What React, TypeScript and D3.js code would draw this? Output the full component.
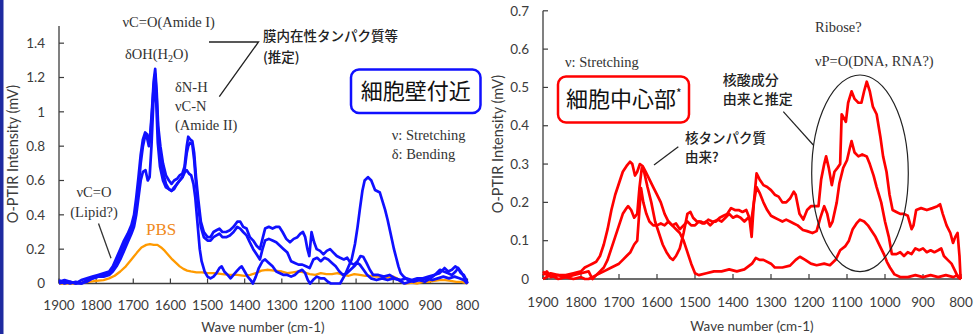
import React from "react";
import * as d3 from "d3";

type Pt = [number, number];

// ---------- Left panel (cell wall) ----------
const blueA: Pt[] = [[1900,0.01],[1885,0.02],[1870,0.01],[1855,0.0],[1840,0.02],[1825,0.03],[1810,0.04],[1795,0.05],[1780,0.06],[1765,0.07],[1755,0.1],[1745,0.15],[1735,0.2],[1725,0.25],[1715,0.29],[1705,0.34],[1698,0.4],[1692,0.5],[1686,0.62],[1680,0.75],[1674,0.84],[1668,0.88],[1663,0.87],[1658,0.82],[1654,0.88],[1650,1.0],[1645,1.18],[1641,1.25],[1637,1.12],[1633,0.92],[1627,0.8],[1620,0.7],[1612,0.63],[1604,0.6],[1597,0.58],[1590,0.6],[1582,0.61],[1575,0.63],[1568,0.64],[1562,0.68],[1556,0.8],[1552,0.855],[1547,0.84],[1541,0.83],[1536,0.76],[1531,0.62],[1525,0.49],[1518,0.36],[1510,0.3],[1500,0.27],[1492,0.27],[1484,0.3],[1476,0.31],[1468,0.32],[1460,0.3],[1450,0.3],[1440,0.31],[1430,0.33],[1420,0.36],[1412,0.36],[1404,0.33],[1395,0.32],[1386,0.27],[1377,0.25],[1368,0.22],[1359,0.2],[1352,0.26],[1345,0.32],[1335,0.33],[1325,0.32],[1315,0.33],[1307,0.33],[1298,0.3],[1288,0.26],[1278,0.24],[1268,0.26],[1258,0.27],[1250,0.29],[1243,0.3],[1237,0.27],[1231,0.2],[1226,0.16],[1220,0.3],[1213,0.24],[1206,0.2],[1197,0.19],[1188,0.17],[1179,0.19],[1170,0.2],[1161,0.18],[1152,0.16],[1143,0.15],[1133,0.14],[1124,0.15],[1115,0.12],[1106,0.11],[1096,0.13],[1088,0.16],[1081,0.156],[1072,0.12],[1063,0.08],[1054,0.05],[1040,0.05],[1025,0.04],[1010,0.05],[995,0.03],[980,0.02],[965,0.03],[950,0.02],[935,0.03],[920,0.03],[905,0.04],[890,0.05],[875,0.06],[862,0.09],[852,0.07],[842,0.08],[833,0.1],[826,0.09],[818,0.06],[810,0.05],[803,0.02],[800,0.0]];

const blueB: Pt[] = [[1900,0.0],[1885,0.01],[1870,0.0],[1855,0.01],[1840,0.0],[1825,0.02],[1810,0.03],[1795,0.04],[1780,0.05],[1765,0.06],[1755,0.08],[1745,0.12],[1735,0.17],[1725,0.22],[1715,0.27],[1705,0.31],[1698,0.36],[1692,0.44],[1686,0.56],[1680,0.7],[1674,0.8],[1668,0.86],[1663,0.85],[1658,0.8],[1654,0.85],[1650,0.98],[1645,1.15],[1641,1.22],[1637,1.08],[1633,0.88],[1627,0.74],[1620,0.65],[1612,0.58],[1604,0.55],[1597,0.54],[1590,0.56],[1582,0.58],[1575,0.6],[1568,0.62],[1562,0.66],[1556,0.76],[1552,0.8],[1547,0.82],[1541,0.81],[1536,0.72],[1531,0.58],[1525,0.45],[1518,0.33],[1510,0.27],[1500,0.25],[1492,0.25],[1484,0.27],[1476,0.28],[1468,0.29],[1460,0.27],[1450,0.27],[1440,0.28],[1430,0.3],[1420,0.33],[1412,0.32],[1404,0.3],[1395,0.28],[1386,0.24],[1377,0.2],[1368,0.17],[1359,0.14],[1352,0.2],[1345,0.25],[1335,0.26],[1325,0.25],[1315,0.24],[1305,0.22],[1295,0.2],[1285,0.18],[1275,0.13],[1265,0.12],[1255,0.11],[1245,0.11],[1235,0.1],[1225,0.09],[1215,0.14],[1205,0.15],[1195,0.13],[1185,0.15],[1175,0.14],[1165,0.12],[1155,0.1],[1145,0.07],[1135,0.05],[1125,0.06],[1115,0.08],[1105,0.1],[1097,0.12],[1090,0.11],[1080,0.08],[1070,0.05],[1060,0.03],[1045,0.02],[1030,0.03],[1015,0.02],[1000,0.03],[985,0.02],[970,0.0],[955,0.01],[940,0.02],[925,0.02],[910,0.03],[895,0.02],[880,0.03],[865,0.04],[850,0.03],[835,0.04],[822,0.03],[810,0.02],[800,0.0]];

const blueC: Pt[] = [[1900,0.02],[1885,0.0],[1870,0.01],[1855,0.0],[1840,0.0],[1825,0.01],[1810,0.03],[1795,0.04],[1780,0.04],[1765,0.05],[1755,0.07],[1745,0.1],[1735,0.14],[1725,0.19],[1715,0.24],[1705,0.29],[1698,0.33],[1692,0.4],[1686,0.5],[1680,0.6],[1674,0.65],[1667,0.66],[1661,0.6],[1656,0.62],[1651,0.8],[1646,1.05],[1642,1.2],[1638,1.05],[1634,0.82],[1628,0.68],[1620,0.6],[1612,0.56],[1604,0.55],[1597,0.54],[1590,0.55],[1582,0.58],[1575,0.6],[1567,0.62],[1561,0.65],[1556,0.66],[1550,0.64],[1544,0.63],[1538,0.58],[1533,0.5],[1527,0.35],[1521,0.2],[1516,0.13],[1508,0.07],[1500,0.04],[1492,0.03],[1484,0.04],[1476,0.06],[1468,0.09],[1462,0.1],[1455,0.07],[1446,0.05],[1438,0.03],[1430,0.05],[1422,0.07],[1414,0.09],[1408,0.1],[1400,0.07],[1392,0.04],[1384,0.02],[1378,0.0],[1370,0.04],[1362,0.09],[1352,0.13],[1345,0.14],[1335,0.12],[1325,0.1],[1315,0.07],[1305,0.06],[1295,0.05],[1285,0.05],[1275,0.04],[1265,0.05],[1255,0.07],[1245,0.08],[1237,0.06],[1230,0.02],[1224,0.0],[1216,0.02],[1206,0.04],[1196,0.03],[1186,0.03],[1176,0.01],[1168,0.0],[1158,0.0],[1150,0.0],[1143,0.0],[1130,0.05],[1120,0.1],[1112,0.14],[1103,0.23],[1096,0.33],[1090,0.43],[1083,0.54],[1077,0.6],[1068,0.62],[1059,0.6],[1049,0.545],[1036,0.53],[1029,0.48],[1022,0.43],[1015,0.37],[1009,0.31],[1003,0.25],[998,0.2],[992,0.15],[986,0.1],[980,0.06],[972,0.04],[960,0.02],[945,0.01],[930,0.02],[915,0.01],[900,0.03],[888,0.05],[874,0.08],[864,0.07],[852,0.06],[842,0.05],[832,0.07],[825,0.09],[818,0.07],[810,0.04],[802,0.0]];

const pbs: Pt[] = [[1900,0.0],[1880,0.0],[1860,0.0],[1840,0.005],[1820,0.01],[1800,0.015],[1780,0.02],[1765,0.03],[1750,0.045],[1735,0.07],[1720,0.1],[1705,0.14],[1690,0.18],[1678,0.21],[1665,0.225],[1655,0.23],[1645,0.225],[1635,0.225],[1625,0.21],[1615,0.19],[1605,0.165],[1595,0.14],[1585,0.12],[1575,0.1],[1565,0.085],[1555,0.075],[1545,0.07],[1530,0.065],[1515,0.065],[1500,0.06],[1480,0.06],[1460,0.055],[1440,0.05],[1420,0.05],[1400,0.045],[1385,0.05],[1370,0.06],[1355,0.075],[1340,0.08],[1320,0.075],[1300,0.07],[1285,0.06],[1270,0.065],[1255,0.07],[1240,0.065],[1225,0.055],[1210,0.05],[1195,0.06],[1180,0.055],[1165,0.055],[1150,0.06],[1135,0.05],[1120,0.045],[1105,0.055],[1090,0.05],[1075,0.045],[1060,0.045],[1045,0.04],[1030,0.04],[1015,0.035],[1000,0.04],[990,0.03],[980,0.01],[968,0.0],[950,0.005],[935,0.0],[920,0.01],[905,0.01],[890,0.015],[875,0.02],[860,0.02],[845,0.015],[830,0.01],[815,0.01],[800,0.0]];

// ---------- Right panel (cell centre) ----------
const redX: Pt[] = [[1900,0.01],[1890,0.02],[1880,0.005],[1860,0.01],[1840,0.01],[1820,0.015],[1800,0.02],[1790,0.03],[1780,0.035],[1770,0.04],[1760,0.045],[1750,0.06],[1740,0.09],[1730,0.13],[1720,0.18],[1710,0.22],[1700,0.25],[1690,0.28],[1680,0.295],[1671,0.306],[1665,0.3],[1658,0.27],[1652,0.28],[1645,0.3],[1638,0.295],[1630,0.28],[1620,0.26],[1610,0.24],[1600,0.22],[1590,0.2],[1580,0.17],[1570,0.15],[1560,0.14],[1550,0.13],[1540,0.12],[1530,0.1],[1520,0.07],[1510,0.04],[1500,0.015],[1490,0.01],[1470,0.015],[1450,0.02],[1430,0.02],[1410,0.025],[1390,0.02],[1370,0.025],[1350,0.04],[1340,0.055],[1330,0.05],[1320,0.05],[1300,0.04],[1290,0.03],[1270,0.03],[1250,0.035],[1235,0.05],[1224,0.058],[1210,0.05],[1195,0.04],[1180,0.036],[1160,0.04],[1145,0.036],[1130,0.05],[1118,0.075],[1105,0.085],[1095,0.1],[1085,0.13],[1075,0.145],[1066,0.155],[1055,0.15],[1045,0.14],[1035,0.125],[1025,0.11],[1013,0.085],[1003,0.065],[995,0.045],[987,0.03],[975,0.012],[960,0.005],[940,0.005],[920,0.01],[900,0.005],[880,0.01],[860,0.005],[840,0.01],[820,0.005],[810,0.01],[800,0.0]];

const redY: Pt[] = [[1900,0.0],[1880,0.01],[1860,0.0],[1840,0.005],[1820,0.01],[1800,0.015],[1780,0.02],[1770,0.0],[1760,0.01],[1750,0.02],[1740,0.03],[1730,0.05],[1720,0.08],[1710,0.11],[1700,0.14],[1690,0.17],[1680,0.185],[1676,0.19],[1668,0.18],[1660,0.16],[1652,0.17],[1646,0.24],[1640,0.29],[1634,0.28],[1625,0.24],[1615,0.2],[1605,0.15],[1595,0.12],[1585,0.09],[1575,0.07],[1565,0.055],[1558,0.05],[1550,0.06],[1540,0.08],[1530,0.12],[1520,0.17],[1512,0.175],[1505,0.16],[1495,0.15],[1485,0.15],[1475,0.145],[1465,0.155],[1455,0.15],[1445,0.15],[1435,0.16],[1425,0.165],[1415,0.17],[1405,0.185],[1395,0.18],[1385,0.18],[1375,0.175],[1365,0.18],[1357,0.16],[1351,0.11],[1345,0.2],[1338,0.276],[1330,0.26],[1320,0.245],[1310,0.24],[1300,0.232],[1290,0.22],[1280,0.215],[1270,0.2],[1260,0.2],[1250,0.21],[1240,0.228],[1235,0.22],[1225,0.17],[1215,0.155],[1205,0.18],[1195,0.19],[1185,0.19],[1175,0.19],[1168,0.26],[1160,0.3],[1155,0.32],[1148,0.29],[1140,0.245],[1133,0.28],[1125,0.29],[1118,0.3],[1114,0.43],[1108,0.42],[1103,0.41],[1097,0.46],[1088,0.49],[1080,0.47],[1070,0.46],[1062,0.46],[1055,0.49],[1048,0.515],[1040,0.49],[1032,0.45],[1022,0.43],[1012,0.37],[1005,0.32],[996,0.28],[988,0.22],[980,0.18],[970,0.175],[960,0.17],[950,0.17],[940,0.165],[930,0.13],[925,0.14],[918,0.18],[905,0.185],[890,0.18],[875,0.185],[862,0.19],[855,0.195],[848,0.17],[838,0.14],[828,0.12],[821,0.094],[815,0.11],[809,0.12],[804,0.06],[801,0.0]];

const redZ: Pt[] = [[1900,0.02],[1890,0.01],[1880,0.015],[1860,0.01],[1840,0.005],[1820,0.0],[1800,0.005],[1790,0.0],[1780,0.0],[1770,0.005],[1760,0.01],[1740,0.02],[1720,0.03],[1700,0.04],[1690,0.05],[1680,0.06],[1670,0.07],[1660,0.09],[1652,0.1],[1647,0.17],[1642,0.237],[1636,0.2],[1628,0.17],[1620,0.15],[1610,0.14],[1600,0.14],[1590,0.145],[1580,0.14],[1570,0.15],[1560,0.14],[1550,0.145],[1540,0.13],[1530,0.14],[1520,0.15],[1510,0.14],[1500,0.14],[1490,0.15],[1480,0.145],[1470,0.15],[1460,0.14],[1450,0.15],[1440,0.155],[1430,0.15],[1420,0.16],[1410,0.17],[1400,0.16],[1390,0.165],[1380,0.16],[1370,0.15],[1360,0.16],[1352,0.15],[1345,0.2],[1338,0.24],[1330,0.225],[1320,0.2],[1310,0.18],[1300,0.165],[1290,0.16],[1280,0.155],[1270,0.15],[1260,0.155],[1250,0.15],[1240,0.145],[1230,0.14],[1216,0.128],[1205,0.125],[1191,0.12],[1180,0.125],[1170,0.16],[1160,0.19],[1152,0.17],[1145,0.137],[1138,0.15],[1127,0.2],[1120,0.25],[1110,0.29],[1100,0.31],[1093,0.34],[1088,0.36],[1080,0.33],[1070,0.32],[1060,0.325],[1048,0.32],[1040,0.3],[1030,0.27],[1022,0.24],[1010,0.2],[1000,0.15],[990,0.11],[982,0.065],[970,0.065],[960,0.07],[950,0.06],[940,0.07],[930,0.065],[920,0.08],[910,0.075],[900,0.08],[890,0.07],[880,0.075],[870,0.07],[860,0.075],[852,0.08],[845,0.06],[835,0.05],[825,0.04],[815,0.02],[808,0.005],[800,0.0]];

const xTicks = [1900, 1800, 1700, 1600, 1500, 1400, 1300, 1200, 1100, 1000, 900, 800];
const yTicksLeft = [0, 0.2, 0.4, 0.6, 0.8, 1, 1.2, 1.4];
const yTicksRight = [0, 0.1, 0.2, 0.3, 0.4, 0.5, 0.6, 0.7];

const SANS = "Lato, 'Liberation Sans', sans-serif";
const SERIF = "'Liberation Serif', 'DejaVu Serif', serif";
const CJK = "'Noto Sans CJK JP', sans-serif";
const AX = "#3c3c3c";

function Axes({ x, y, yTicks, yTitleX, yTitleY, xLabelY, xTitleY, xTitleX }: any) {
  const [x0, x1] = x.range();
  const [yb, yt] = y.range();
  return (
    <g>
      <line x1={x0} x2={x0} y1={yb} y2={yt} stroke={AX} strokeWidth={1.3} />
      <line x1={x0} x2={x1} y1={yb} y2={yb} stroke={AX} strokeWidth={1.3} />
      {yTicks.map((t: number) => (
        <g key={"y" + t}>
          <line x1={x0} x2={x0 + 5} y1={y(t)} y2={y(t)} stroke={AX} strokeWidth={1.2} />
          <text x={x0 - 14} y={y(t)} dy="0.35em" textAnchor="end" fontFamily={SANS} fontSize={13.5} fill={AX}>{String(t)}</text>
        </g>
      ))}
      {xTicks.map((t) => (
        <g key={"x" + t}>
          <line x1={x(t)} x2={x(t)} y1={yb} y2={yb - 5} stroke={AX} strokeWidth={1.2} />
          <text x={x(t)} y={xLabelY} dy="0.35em" textAnchor="middle" fontFamily={SANS} fontSize={13.5} fill={AX}>{t}</text>
        </g>
      ))}
      <text x={xTitleX} y={xTitleY} dy="0.35em" textAnchor="middle" fontFamily={SANS} fontSize={13.5} fill={AX}>Wave number (cm-1)</text>
      <text transform={`translate(${yTitleX},${yTitleY}) rotate(-90)`} dy="0.35em" textAnchor="middle" fontFamily={SANS} fontSize={14.5} fill={AX}>O-PTIR Intensity (mV)</text>
    </g>
  );
}

export default function App() {
  const xL = d3.scaleLinear().domain([1900, 800]).range([59, 467.5]);
  const yL = d3.scaleLinear().domain([0, 1.5]).range([283.5, 26]);
  const xR = d3.scaleLinear().domain([1900, 800]).range([543, 961]);
  const yR = d3.scaleLinear().domain([0, 0.7]).range([279, 10.8]);
  const lineL = d3.line<Pt>().x((d) => xL(d[0])).y((d) => yL(d[1]));
  const lineR = d3.line<Pt>().x((d) => xR(d[0])).y((d) => yR(d[1]));
  const BLUE = "#1010ff";
  const RED = "#ff0000";
  const ORANGE = "#ff9a00";

  return (
    <svg width={974} height={334} style={{ position: "absolute", left: 0, top: 0, background: "#fff" }}>
      <rect x={0} y={0} width={974} height={334} fill="#fff" />
      <rect x={0} y={0} width={3.5} height={334} fill="#1e2aa0" />

      {/* Left panel */}
      <Axes x={xL} y={yL} yTicks={yTicksLeft} yTitleX={13} yTitleY={154} xLabelY={305.7} xTitleY={327.5} xTitleX={263} />
      <path d={lineL(pbs) || ""} fill="none" stroke={ORANGE} strokeWidth={2.3} strokeLinejoin="round" />
      {[blueA, blueB, blueC].map((s, i) => (
        <path key={i} d={lineL(s) || ""} fill="none" stroke={BLUE} strokeWidth={2.7} strokeLinejoin="round" />
      ))}

      <text x={122.5} y={26.5} fontFamily={SERIF} fontSize={14.5} fill="#333">νC=O(Amide I)</text>
      <text x={125} y={59} fontFamily={SERIF} fontSize={14.5} fill="#333">δOH(H<tspan fontSize={10} dy={3}>2</tspan><tspan dy={-3}>O)</tspan></text>
      <text x={175} y={92} fontFamily={SERIF} fontSize={14.5} fill="#333">δN-H</text>
      <text x={175} y={111} fontFamily={SERIF} fontSize={14.5} fill="#333">νC-N</text>
      <text x={175} y={130} fontFamily={SERIF} fontSize={14.5} fill="#333">(Amide II)</text>
      <polyline points="209,42 258.5,42 219.3,96.7" fill="none" stroke="#222" strokeWidth={1.3} />
      <text x={263} y={41} fontFamily={CJK} fontSize={13.5} fontWeight={500} fill="#222">膜内在性タンパク質等</text>
      <text x={263} y={62} fontFamily={CJK} fontSize={13.5} fontWeight={500} fill="#222">(推定)</text>
      <rect x={351} y={69.5} width={129.5} height={43.5} rx={8} fill="#fff" stroke={BLUE} strokeWidth={2.5} />
      <text x={415.7} y={91.3} dy="0.36em" textAnchor="middle" fontFamily={CJK} fontSize={22} fill="#111">細胞壁付近</text>
      <text x={391.7} y={140} fontFamily={SERIF} fontSize={14.5} fill="#333">ν: Stretching</text>
      <text x={391.7} y={159} fontFamily={SERIF} fontSize={14.5} fill="#333">δ: Bending</text>
      <text x={94} y={197} textAnchor="middle" fontFamily={SERIF} fontSize={14.5} fill="#333">νC=O</text>
      <text x={94} y={216.5} textAnchor="middle" fontFamily={SERIF} fontSize={14.5} fill="#333">(Lipid?)</text>
      <line x1={98.5} y1={223.5} x2={111} y2={258.3} stroke="#333" strokeWidth={1.3} />
      <text x={146} y={235} fontFamily={SERIF} fontSize={17} fill="#f08a1c">PBS</text>

      {/* Right panel */}
      <Axes x={xR} y={yR} yTicks={yTicksRight} yTitleX={498} yTitleY={144} xLabelY={302.7} xTitleY={326.5} xTitleX={752} />
      {[redX, redY, redZ].map((s, i) => (
        <path key={i} d={lineR(s) || ""} fill="none" stroke={RED} strokeWidth={2.7} strokeLinejoin="round" />
      ))}
      <ellipse cx={860} cy={173.3} rx={48.3} ry={98.3} fill="none" stroke="#222" strokeWidth={1.2} />
      <text x={565} y={66.5} fontFamily={SERIF} fontSize={14.5} fill="#333">ν: Stretching</text>
      <rect x={558} y={76.5} width={131} height={46} rx={8} fill="#fff" stroke={RED} strokeWidth={2.5} />
      <text x={566} y={99.5} dy="0.36em" fontFamily={CJK} fontSize={22} fill="#111">細胞中心部</text>
      <text x={676} y={98} fontFamily={CJK} fontSize={12} fill="#111">*</text>
      <text x={815} y={31.5} fontFamily={SERIF} fontSize={14.5} fill="#333">Ribose?</text>
      <text x={815} y={66} fontFamily={SERIF} fontSize={14.5} fill="#333">νP=O(DNA, RNA?)</text>
      <text x={685} y={143} fontFamily={CJK} fontSize={13.5} fontWeight={500} fill="#222">核タンパク質</text>
      <text x={685} y={162} fontFamily={CJK} fontSize={13.5} fontWeight={500} fill="#222">由来?</text>
      <line x1={654} y1={165} x2={678.3} y2={146.7} stroke="#222" strokeWidth={1.2} />
      <text x={722.7} y={85} fontFamily={CJK} fontSize={14} fontWeight={500} fill="#222">核酸成分</text>
      <text x={722.7} y={103.5} fontFamily={CJK} fontSize={14} fontWeight={500} fill="#222">由来と推定</text>
      <line x1={783.3} y1={111.7} x2={813.3} y2={145} stroke="#222" strokeWidth={1.2} />
    </svg>
  );
}
